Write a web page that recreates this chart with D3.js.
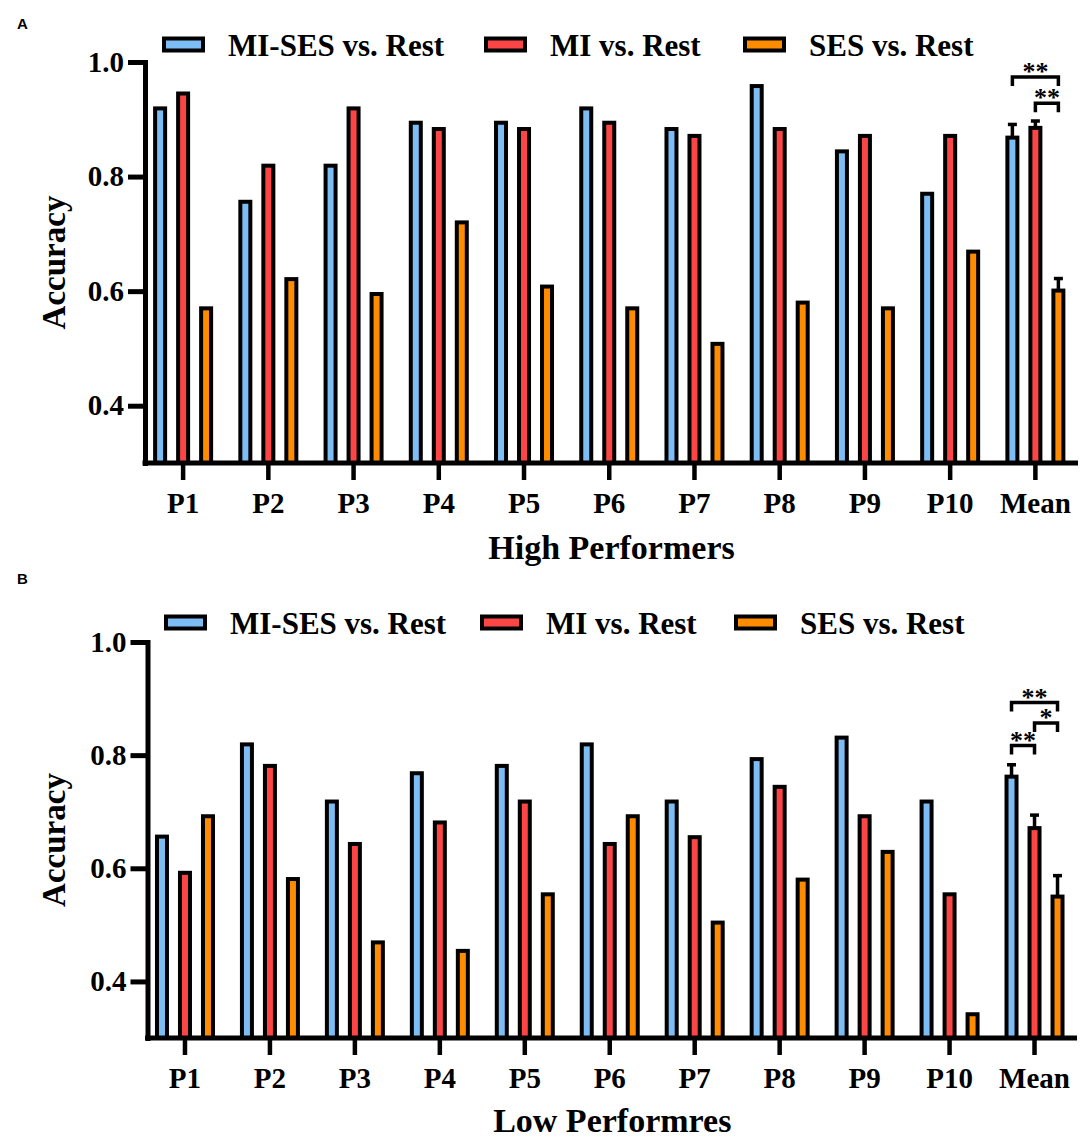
<!DOCTYPE html>
<html><head><meta charset="utf-8">
<script src="https://cdn.jsdelivr.net/npm/d3@7"></script>
<style>body{margin:0;background:#fff}</style>
</head><body><svg id="c" width="1084" height="1140" xmlns="http://www.w3.org/2000/svg"></svg>
<script>
// ---------- data ----------
const categories = ["P1","P2","P3","P4","P5","P6","P7","P8","P9","P10","Mean"];
const seriesNames = ["MI-SES vs. Rest","MI vs. Rest","SES vs. Rest"];
const seriesColors = ["#7dbdf5","#fc4646","#ff8c00"];
const yTicks = [0.4, 0.6, 0.8, 1.0];

// Panel A: High Performers
const highMISES = [0.919, 0.756, 0.819, 0.894, 0.894, 0.919, 0.883, 0.958, 0.844, 0.770, 0.868];
const highMI    = [0.945, 0.819, 0.919, 0.883, 0.883, 0.894, 0.871, 0.883, 0.871, 0.871, 0.885];
const highSES   = [0.570, 0.621, 0.595, 0.720, 0.608, 0.570, 0.508, 0.580, 0.570, 0.669, 0.601];
const highMeanErr = [0.023, 0.012, 0.021];
const highSig = [
  {from: 0, to: 2, level: 0.974, label: "**"},
  {from: 1, to: 2, level: 0.928, label: "**"}
];

// Panel B: Low Performers
const lowMISES = [0.656, 0.819, 0.718, 0.768, 0.781, 0.819, 0.718, 0.793, 0.831, 0.718, 0.762];
const lowMI    = [0.592, 0.781, 0.643, 0.681, 0.718, 0.643, 0.655, 0.744, 0.692, 0.554, 0.671];
const lowSES   = [0.692, 0.581, 0.469, 0.454, 0.554, 0.692, 0.504, 0.580, 0.629, 0.342, 0.550];
const lowMeanErr = [0.021, 0.023, 0.037];
const lowSig = [
  {from: 0, to: 2, level: 0.893, label: "**"},
  {from: 1, to: 2, level: 0.857, label: "*"},
  {from: 0, to: 1, level: 0.817, label: "**"}
];

// ---------- drawing ----------
const svg = d3.select("#c");
const SERIF = "'Liberation Serif','Times New Roman',serif";
const SANS = "'Liberation Sans',Arial,sans-serif";

function drawPanel(cfg) {
  const g = svg.append("g");
  const x = d3.scaleBand().domain(categories).range(cfg.xRange);
  const xs = d3.scaleBand().domain([0,1,2]).range([-34.5, 34.5]);
  const y = d3.scaleLinear().domain([0.3, 1.0]).range([cfg.yBottom, cfg.yTop]);
  const barW = 10;
  const cx = (cat, si) => x(cat) + x.bandwidth()/2 + xs(si) + xs.bandwidth()/2;

  // panel letter
  g.append("text").attr("x", 17).attr("y", cfg.letterY).text(cfg.letter)
    .attr("font-family", SANS).attr("font-weight", "bold").attr("font-size", 15);

  // bars
  cfg.series.forEach((vals, si) => {
    g.append("g").selectAll("rect").data(vals).join("rect")
      .attr("x", (d, i) => cx(categories[i], si) - barW/2)
      .attr("y", d => y(d))
      .attr("width", barW)
      .attr("height", d => y(0.3) - y(d))
      .attr("fill", seriesColors[si])
      .attr("stroke", "#000").attr("stroke-width", 4);
  });

  // error bars on Mean (upper only)
  const meanIdx = categories.length - 1;
  cfg.series.forEach((vals, si) => {
    const v = vals[meanIdx], e = cfg.err[si];
    const xx = cx("Mean", si);
    g.append("line").attr("x1", xx).attr("x2", xx)
      .attr("y1", y(v)).attr("y2", y(v + e))
      .attr("stroke", "#000").attr("stroke-width", 3.5);
    g.append("line").attr("x1", xx - 4.5).attr("x2", xx + 4.5)
      .attr("y1", y(v + e)).attr("y2", y(v + e))
      .attr("stroke", "#000").attr("stroke-width", 3.5);
  });

  // significance brackets
  cfg.sig.forEach(s => {
    const x1 = cx("Mean", s.from), x2 = cx("Mean", s.to), yy = y(s.level);
    g.append("path")
      .attr("d", `M${x1},${yy + 9}V${yy}H${x2}V${yy + 9}`)
      .attr("fill", "none").attr("stroke", "#000").attr("stroke-width", 3.5);
    g.append("text").attr("x", (x1 + x2)/2).attr("y", yy + 3)
      .attr("text-anchor", "middle").text(s.label)
      .attr("font-family", SERIF).attr("font-weight", "bold").attr("font-size", 26);
  });

  // y axis
  const ya = g.append("g").attr("transform", `translate(${cfg.axisX},0)`)
    .call(d3.axisLeft(y).tickValues(yTicks).tickFormat(d3.format(".1f"))
      .tickSize(17).tickPadding(4).tickSizeOuter(0));
  ya.select(".domain").attr("stroke-width", 5).attr("stroke-linecap", "square");
  ya.selectAll(".tick line").attr("stroke-width", 5);
  ya.selectAll(".tick text").attr("font-family", SERIF).attr("font-weight", "bold")
    .attr("font-size", 29).attr("fill", "#000");

  // x axis
  const xa = g.append("g").attr("transform", `translate(0,${cfg.yBottom})`)
    .call(d3.axisBottom(x).tickSize(17).tickPadding(12).tickSizeOuter(0));
  xa.select(".domain").remove();
  xa.selectAll(".tick line").attr("stroke-width", 4.5);
  xa.selectAll(".tick text").attr("font-family", SERIF).attr("font-weight", "bold")
    .attr("font-size", 29).attr("fill", "#000");
  g.append("line").attr("x1", cfg.axisX - 2.5).attr("x2", cfg.xRange[1])
    .attr("y1", cfg.yBottom).attr("y2", cfg.yBottom)
    .attr("stroke", "#000").attr("stroke-width", 5);

  // axis titles
  g.append("text").attr("x", (cfg.axisX + cfg.xRange[1])/2).attr("y", cfg.xTitleY)
    .attr("text-anchor", "middle").text(cfg.xTitle)
    .attr("font-family", SERIF).attr("font-weight", "bold").attr("font-size", 34);
  g.append("text")
    .attr("transform", `translate(65,${(cfg.yTop + cfg.yBottom)/2}) rotate(-90)`)
    .attr("text-anchor", "middle").text("Accuracy")
    .attr("font-family", SERIF).attr("font-weight", "bold").attr("font-size", 33);

  // legend
  seriesNames.forEach((name, si) => {
    const lx = cfg.legendX[si];
    g.append("rect").attr("x", lx + 2).attr("y", cfg.legendY - 6).attr("width", 39).attr("height", 12)
      .attr("fill", seriesColors[si]).attr("stroke", "#000").attr("stroke-width", 4);
    g.append("text").attr("x", lx + 66).attr("y", cfg.legendY + 11).text(name)
      .attr("font-family", SERIF).attr("font-weight", "bold").attr("font-size", 31);
  });
}

drawPanel({
  letter: "A", letterY: 29,
  series: [highMISES, highMI, highSES], err: highMeanErr, sig: highSig,
  xRange: [140.5, 1078], axisX: 145, yTop: 62, yBottom: 463,
  xTitle: "High Performers", xTitleY: 559,
  legendX: [162, 484, 743], legendY: 44.5
});

drawPanel({
  letter: "B", letterY: 584,
  series: [lowMISES, lowMI, lowSES], err: lowMeanErr, sig: lowSig,
  xRange: [142.5, 1077], axisX: 147.5, yTop: 642, yBottom: 1038,
  xTitle: "Low Performres", xTitleY: 1132,
  legendX: [164, 480, 734], legendY: 622.5
});
</script>
</body></html>
